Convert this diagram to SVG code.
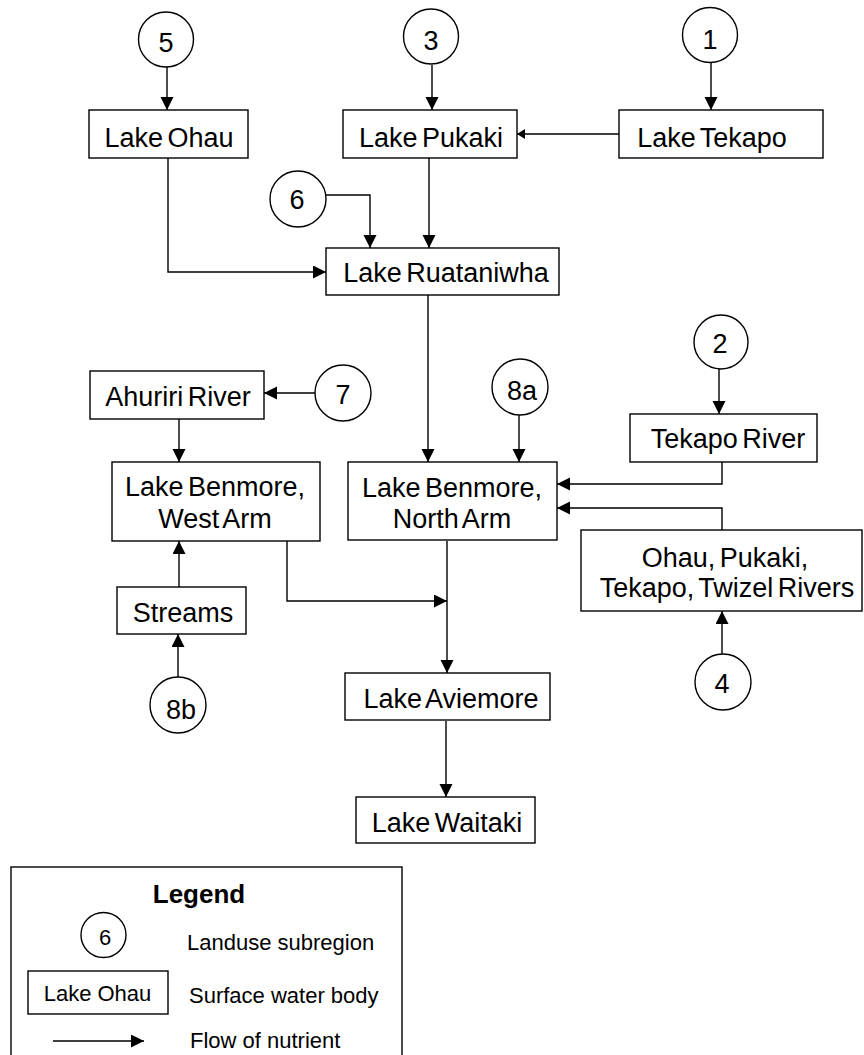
<svg xmlns="http://www.w3.org/2000/svg" width="864" height="1055" viewBox="0 0 864 1055">
<defs>
<marker id="ah" markerUnits="userSpaceOnUse" markerWidth="14" markerHeight="14" refX="13" refY="6.5" orient="auto"><path d="M0,0 L13,6.5 L0,13 z" fill="#000"/></marker>
<marker id="ahs" markerUnits="userSpaceOnUse" markerWidth="10" markerHeight="11" refX="8" refY="5" orient="auto"><path d="M0,0 L8,5 L0,10 z" fill="#000"/></marker>
<style>
.n rect,.n circle{fill:#fff;stroke:#000;stroke-width:1.4}
.n text{font-family:"Liberation Sans",Arial,sans-serif;font-size:27px;word-spacing:-3px;fill:#000;text-anchor:middle}
.c path{fill:none;stroke:#000;stroke-width:1.4}
.lg text{font-family:"Liberation Sans",Arial,sans-serif;font-size:22px;fill:#000}
.lg .t{font-size:26px;font-weight:bold;text-anchor:middle}
</style>
</defs>
<rect width="864" height="1055" fill="#fff"/>
<g class="c">
<path d="M167,67 V110" marker-end="url(#ah)"/>
<path d="M432,65 V110" marker-end="url(#ah)"/>
<path d="M711,63 V110" marker-end="url(#ah)"/>
<path d="M619,134 H517" marker-end="url(#ahs)"/>
<path d="M429,158 V248" marker-end="url(#ah)"/>
<path d="M326,195 H370 V248" marker-end="url(#ah)"/>
<path d="M168,158 V272 H326" marker-end="url(#ah)"/>
<path d="M428,295 V462" marker-end="url(#ah)"/>
<path d="M519,415 V462" marker-end="url(#ah)"/>
<path d="M719,369 V414" marker-end="url(#ah)"/>
<path d="M315,393 H264" marker-end="url(#ah)"/>
<path d="M179,419 V462" marker-end="url(#ah)"/>
<path d="M722,462 V484 H557" marker-end="url(#ah)"/>
<path d="M722,530 V508 H557" marker-end="url(#ah)"/>
<path d="M722,654 V611" marker-end="url(#ah)"/>
<path d="M287,541 V601 H447" marker-end="url(#ah)"/>
<path d="M447,541 V673" marker-end="url(#ah)"/>
<path d="M179,587 V541" marker-end="url(#ah)"/>
<path d="M178,677 V634" marker-end="url(#ah)"/>
<path d="M446,721 V797" marker-end="url(#ah)"/>
</g>
<g id="c5" class="n"><circle cx="166" cy="39.5" r="27.5"/><text x="166" y="52">5</text></g>
<g id="c3" class="n"><circle cx="431" cy="36.5" r="27.5"/><text x="431" y="50">3</text></g>
<g id="c1" class="n"><circle cx="710" cy="35" r="27.5"/><text x="710" y="49">1</text></g>
<g id="c6" class="n"><circle cx="298" cy="199" r="28"/><text x="297" y="209">6</text></g>
<g id="c7" class="n"><circle cx="343" cy="393" r="28"/><text x="343" y="404">7</text></g>
<g id="c8a" class="n"><circle cx="520" cy="387" r="28"/><text x="522" y="400">8a</text></g>
<g id="c2" class="n"><circle cx="721" cy="342" r="27"/><text x="720" y="353">2</text></g>
<g id="c4" class="n"><circle cx="723" cy="682" r="28"/><text x="722" y="693">4</text></g>
<g id="c8b" class="n"><circle cx="178" cy="705" r="28"/><text x="181" y="719">8b</text></g>
<g id="ohau" class="n"><rect x="89" y="110" width="159" height="48"/><text x="169" y="147">Lake Ohau</text></g>
<g id="pukaki" class="n"><rect x="343" y="110" width="174" height="48"/><text x="431" y="147">Lake Pukaki</text></g>
<g id="tekapo" class="n"><rect x="619" y="110" width="204" height="48"/><text x="712" y="147">Lake Tekapo</text></g>
<g id="ruataniwha" class="n"><rect x="326" y="248" width="233" height="47"/><text x="446" y="282">Lake Ruataniwha</text></g>
<g id="ahuriri" class="n"><rect x="90" y="371" width="174" height="48"/><text x="178" y="406">Ahuriri River</text></g>
<g id="westarm" class="n"><rect x="112" y="462" width="208" height="79"/><text x="215" y="496">Lake Benmore,</text><text x="215" y="528">West Arm</text></g>
<g id="northarm" class="n"><rect x="348" y="462" width="209" height="78"/><text x="452" y="497">Lake Benmore,</text><text x="452" y="528">North Arm</text></g>
<g id="tekaporiver" class="n"><rect x="630" y="414" width="187" height="48"/><text x="728" y="448">Tekapo River</text></g>
<g id="rivers" class="n"><rect x="581" y="530" width="281" height="81"/><text x="725" y="567">Ohau, Pukaki,</text><text x="727" y="597">Tekapo, Twizel Rivers</text></g>
<g id="streams" class="n"><rect x="117" y="587" width="129" height="47"/><text x="183" y="622">Streams</text></g>
<g id="aviemore" class="n"><rect x="345" y="673" width="205" height="47"/><text x="451" y="708">Lake Aviemore</text></g>
<g id="waitaki" class="n"><rect x="356" y="797" width="179" height="46"/><text x="447" y="832">Lake Waitaki</text></g>
<g id="legend" class="lg">
<rect x="11" y="867" width="391" height="220" fill="none" stroke="#000" stroke-width="1.4"/>
<text class="t" x="199" y="903">Legend</text>
<circle cx="103.5" cy="935" r="22.5" fill="#fff" stroke="#000" stroke-width="1.4"/>
<text x="105" y="945" text-anchor="middle">6</text>
<text x="187" y="950">Landuse subregion</text>
<rect x="28" y="971" width="140" height="43" fill="#fff" stroke="#000" stroke-width="1.4"/>
<text x="97.5" y="1001" text-anchor="middle">Lake Ohau</text>
<text x="189" y="1003">Surface water body</text>
<path d="M53,1041 H144" stroke="#000" stroke-width="1.4" marker-end="url(#ah)"/>
<text x="190" y="1048">Flow of nutrient</text>
</g>
</svg>
